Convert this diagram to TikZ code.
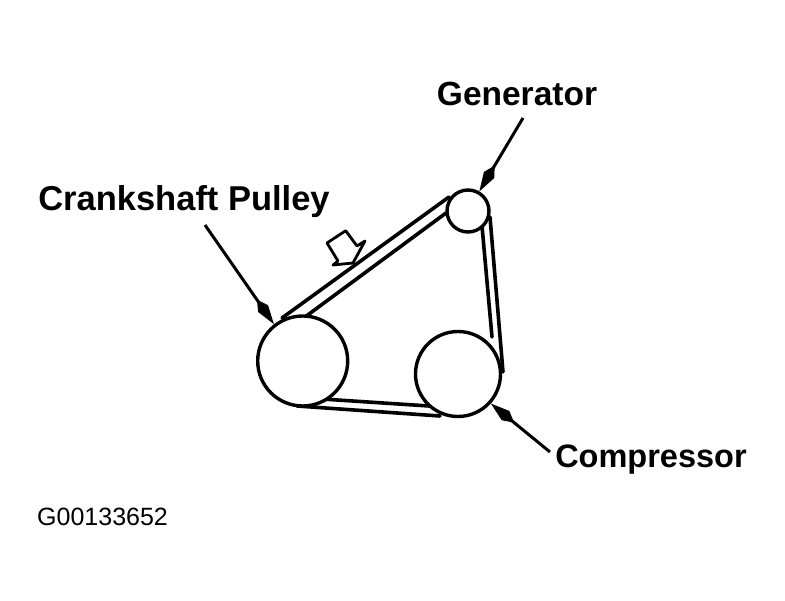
\documentclass[tikz,border=0pt]{standalone}
\usepackage{fontspec}
\setmainfont{Liberation Sans}
\usetikzlibrary{arrows.meta}
\tikzset{
  pulley/.style={circle,draw=black,line width=3.4pt,fill=white,inner sep=0pt,minimum size=#1},
  belt/.style={draw=black,line width=3.6pt,line cap=round},
  leader/.style={draw=black,line width=3pt,-{Kite[length=30pt,width=12pt,inset=11pt]}},
  lab/.style={inner sep=0pt,anchor=center,font=\bfseries},
  code/.style={inner sep=0pt,anchor=west,font=\fontsize{25}{27}\selectfont},
}
\begin{document}
\begin{tikzpicture}[x=1pt,y=-1pt]
\useasboundingbox (0,0) rectangle (785,601);
% belts
\coordinate (b1a) at (282,318); \coordinate (b1b) at (449,197);
\coordinate (b2a) at (305,317); \coordinate (b2b) at (446,213);
\coordinate (b3a) at (490,217); \coordinate (b3b) at (503,372);
\coordinate (b4a) at (482,226); \coordinate (b4b) at (492,337);
\coordinate (b5a) at (297,406); \coordinate (b5b) at (440,416);
\coordinate (b6a) at (322,399); \coordinate (b6b) at (429,406);
\draw[belt] (b1a) -- (b1b);
\draw[belt] (b2a) -- (b2b);
\draw[belt] (b3a) -- (b3b);
\draw[belt] (b4a) -- (b4b);
\draw[belt] (b5a) -- (b5b);
\draw[belt] (b6a) -- (b6b);
% pulleys
\node[pulley=90pt] (crank) at (302.7,361) {};
\node[pulley=85pt] (comp) at (458,374) {};
\node[pulley=42pt] (gen) at (468,211) {};
% labels
\node[lab,font=\bfseries\fontsize{33.5}{36}\selectfont] (lgen) at (517,94) {Generator};
\node[lab,font=\bfseries\fontsize{34.5}{36}\selectfont] (lcrank) at (184,202) {Crankshaft Pulley};
\node[lab,font=\bfseries\fontsize{32.5}{36}\selectfont] (lcomp) at (651,460) {Compressor};
\node[code] (lcode) at (37,517) {G00133652};
% leaders
\coordinate (s1) at (523,118);
\coordinate (s2) at (205,225);
\coordinate (s3) at (550,452);
\draw[leader] (s1) -- (gen.60);
\draw[leader] (s2) -- (crank.128);
\draw[leader] (s3) -- (comp.-42);
% hollow arrow
\draw[black,line width=2.8pt,line join=round,fill=white]
 (345.7,230.7) -- (327,243) -- (338,261) -- (333,265) -- (353,263) -- (365,241) -- (357,246) -- cycle;
\end{tikzpicture}
\end{document}
